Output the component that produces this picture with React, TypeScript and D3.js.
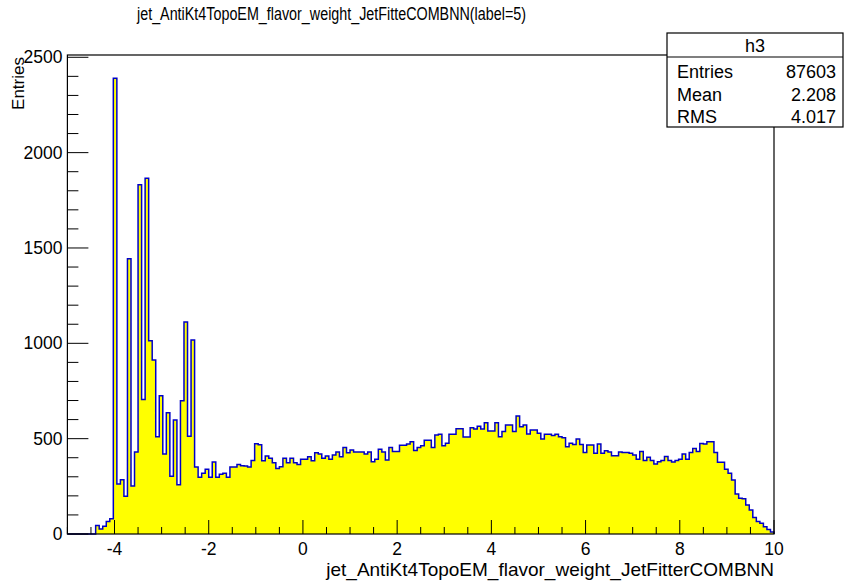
import React from "react";
import * as d3 from "d3";

// Histogram: 200 bins on [-5, 10]
const xMin = -5;
const xMax = 10;
const yMax = 2512;
const counts: number[] = [
  0, 0, 0, 0, 0, 0, 0, 0, 45, 26,
  40, 65, 80, 2390, 262, 285, 198, 1444, 252, 430,
  1832, 705, 1865, 1013, 912, 510, 725, 420, 636, 303,
  598, 258, 699, 1112, 512, 1018, 352, 297, 318, 339,
  297, 378, 297, 314, 318, 297, 352, 352, 365, 358,
  357, 352, 386, 473, 468, 384, 409, 397, 374, 344,
  353, 397, 374, 397, 374, 365, 392, 392, 405, 384,
  426, 419, 397, 409, 392, 414, 430, 405, 453, 426,
  440, 430, 430, 430, 419, 430, 379, 392, 444, 430,
  388, 453, 432, 432, 465, 465, 472, 484, 438, 453,
  463, 491, 491, 453, 519, 523, 463, 476, 523, 523,
  552, 552, 509, 509, 557, 551, 565, 551, 584, 540,
  540, 584, 510, 537, 572, 572, 537, 619, 563, 572,
  524, 545, 545, 528, 498, 523, 523, 516, 523, 510,
  505, 458, 476, 470, 498, 470, 428, 467, 467, 423,
  472, 423, 437, 430, 411, 411, 430, 427, 427, 423,
  414, 392, 432, 385, 402, 385, 367, 379, 385, 406,
  385, 378, 385, 392, 420, 392, 427, 449, 432, 475,
  472, 484, 484, 427, 376, 376, 339, 318, 283, 210,
  187, 185, 152, 126, 87, 65, 56, 38, 24, 10,
];

const xMajorTicks = [-4, -2, 0, 2, 4, 6, 8, 10];
const xTickLabels = ["-4", "-2", "0", "2", "4", "6", "8", "10"];
const yMajorTicks = [0, 500, 1000, 1500, 2000, 2500];
const yTickLabels = ["0", "500", "1000", "1500", "2000", "2500"];

const title = "jet_AntiKt4TopoEM_flavor_weight_JetFitteCOMBNN(label=5)";
const xTitle = "jet_AntiKt4TopoEM_flavor_weight_JetFitterCOMBNN";
const yTitle = "Entries";
const statsName = "h3";
const statsLabels = ["Entries", "Mean", "RMS"];
const statsValues = ["87603", "2.208", "4.017"];

const FONT = "'Liberation Sans', Arial, Helvetica, sans-serif";

export default function App() {
  const W = 844;
  const H = 581;
  const left = 67.4;
  const right = 774;
  const top = 55;
  const bottom = 534;

  const x = d3.scaleLinear().domain([xMin, xMax]).range([left, right]);
  const y = d3.scaleLinear().domain([0, yMax]).range([bottom, top]);

  const nb = counts.length;
  const bw = (xMax - xMin) / nb;
  const pts: [number, number][] = [[xMin, 0]];
  counts.forEach((c, i) => {
    const lo = xMin + i * bw;
    pts.push([lo, c]);
    pts.push([lo + bw, c]);
  });
  pts.push([xMax, 0]);
  const line = d3
    .line<[number, number]>()
    .x((d) => x(d[0]))
    .y((d) => y(d[1]));
  const pathD = line(pts) || "";

  const xMinor = d3.range(xMin, xMax + 1e-9, 0.5);
  const yMinor = d3.range(0, yMax, 100);

  const boxL = 667;
  const boxR = 843;
  const boxT = 33;
  const boxSep = 57;
  const boxB = 127;

  return (
    <svg
      width={W}
      height={H}
      style={{ position: "absolute", left: 0, top: 0, background: "#fff" }}
      fontFamily={FONT}
    >
      <rect x={0} y={0} width={W} height={H} fill="#fff" />
      <text
        x={331.5}
        y={20}
        fontSize={17.5}
        textAnchor="middle"
        textLength={389}
        lengthAdjust="spacingAndGlyphs"
        fill="#000"
      >
        {title}
      </text>

      <path d={pathD} fill="#ffff00" stroke="none" />
      <path d={pathD} fill="none" stroke="#0000c8" strokeWidth={1.5} />

      <rect
        x={left}
        y={top}
        width={right - left}
        height={bottom - top}
        fill="none"
        stroke="#000"
        strokeWidth={1.2}
      />

      {/* x ticks */}
      {xMinor.map((v, i) => {
        const isMajor = xMajorTicks.some((m) => Math.abs(m - v) < 1e-6);
        return (
          <line
            key={"xm" + i}
            x1={x(v)}
            x2={x(v)}
            y1={bottom}
            y2={bottom - (isMajor ? 14 : 7)}
            stroke="#000"
            strokeWidth={1}
          />
        );
      })}
      {xMajorTicks.map((v, i) => (
        <text
          key={"xl" + i}
          x={x(v)}
          y={554.5}
          fontSize={17.5}
          textAnchor="middle"
          fill="#000"
        >
          {xTickLabels[i]}
        </text>
      ))}

      {/* y ticks */}
      {yMinor.map((v, i) => {
        const isMajor = v % 500 === 0;
        return (
          <line
            key={"ym" + i}
            x1={left}
            x2={left + (isMajor ? 21 : 11)}
            y1={y(v)}
            y2={y(v)}
            stroke="#000"
            strokeWidth={1}
          />
        );
      })}
      {yMajorTicks.map((v, i) => (
        <text
          key={"yl" + i}
          x={62.5}
          y={y(v) + 6}
          fontSize={17.5}
          textAnchor="end"
          fill="#000"
        >
          {yTickLabels[i]}
        </text>
      ))}

      <text x={774} y={576} fontSize={19} textAnchor="end" fill="#000">
        {xTitle}
      </text>
      <text
        transform={`translate(24,57) rotate(-90)`}
        fontSize={17}
        textAnchor="end"
        fill="#000"
      >
        {yTitle}
      </text>

      {/* stats box */}
      <rect
        x={boxL}
        y={boxT}
        width={boxR - boxL}
        height={boxB - boxT}
        fill="#fff"
        stroke="#000"
        strokeWidth={1.2}
      />
      <line x1={boxL} x2={boxR} y1={boxSep} y2={boxSep} stroke="#000" strokeWidth={1.2} />
      <text x={(boxL + boxR) / 2} y={52} fontSize={18} textAnchor="middle" fill="#000">
        {statsName}
      </text>
      {statsLabels.map((s, i) => (
        <g key={"st" + i}>
          <text x={677} y={78 + i * 22.5} fontSize={18} fill="#000">
            {s}
          </text>
          <text x={836} y={78 + i * 22.5} fontSize={18} textAnchor="end" fill="#000">
            {statsValues[i]}
          </text>
        </g>
      ))}
    </svg>
  );
}
